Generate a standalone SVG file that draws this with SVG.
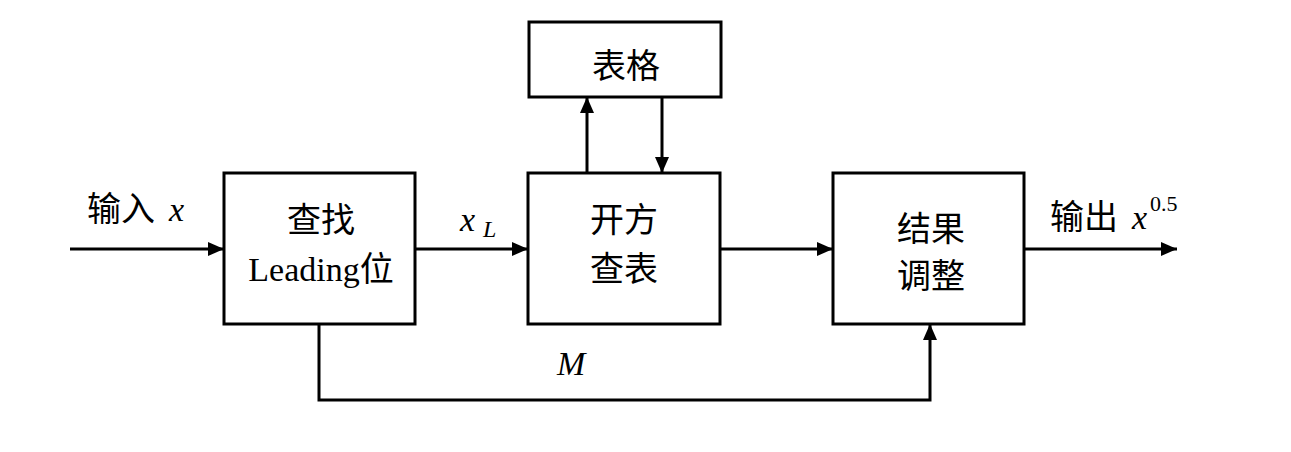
<svg xmlns="http://www.w3.org/2000/svg" width="1291" height="452" viewBox="0 0 1291 452">
<style>
.box{fill:#fff;stroke:#000;stroke-width:3}
.ln{fill:none;stroke:#000;stroke-width:3}
.cn{font-family:"Liberation Serif","Noto Sans CJK SC",serif;font-size:34px;fill:#000}
.it{font-family:"Liberation Serif",serif;font-style:italic;fill:#000}
</style>
<defs>
<marker id="ah" viewBox="0 0 16 14" refX="16" refY="7" markerWidth="16" markerHeight="14" markerUnits="userSpaceOnUse" orient="auto">
<path d="M0,0 L16,7 L0,14 Z" fill="#000"/>
</marker>
</defs>
<rect width="1291" height="452" fill="#fff"/>
<g id="connectors">
<line class="ln" x1="70" y1="249" x2="224" y2="249" marker-end="url(#ah)"/>
<line class="ln" x1="415" y1="249" x2="528" y2="249" marker-end="url(#ah)"/>
<line class="ln" x1="720" y1="249" x2="833" y2="249" marker-end="url(#ah)"/>
<line class="ln" x1="1024" y1="249" x2="1177" y2="249" marker-end="url(#ah)"/>
<line class="ln" x1="587" y1="173" x2="587" y2="97" marker-end="url(#ah)"/>
<line class="ln" x1="662" y1="97" x2="662" y2="173" marker-end="url(#ah)"/>
<polyline class="ln" points="319,324 319,400 930,400 930,324" marker-end="url(#ah)"/>
</g>
<g id="input-label">
<text class="cn" x="87" y="221">输入</text>
<text class="it" x="169" y="221" font-size="34">x</text>
</g>
<g id="leading">
<rect class="box" x="224" y="173" width="191" height="151"/>
<text class="cn" x="321" y="232" text-anchor="middle">查找</text>
<text class="cn" x="321" y="281" text-anchor="middle">Leading位</text>
</g>
<g id="xl-label">
<text class="it" x="460" y="231" font-size="34">x</text>
<text class="it" x="483" y="237" font-size="24">L</text>
</g>
<g id="sqrt-lookup">
<rect class="box" x="528" y="173" width="192" height="151"/>
<text class="cn" x="624" y="232" text-anchor="middle">开方</text>
<text class="cn" x="624" y="281" text-anchor="middle">查表</text>
</g>
<g id="table">
<rect class="box" x="529" y="22" width="192" height="75"/>
<text class="cn" x="626" y="78" text-anchor="middle">表格</text>
</g>
<g id="adjust">
<rect class="box" x="833" y="173" width="191" height="151"/>
<text class="cn" x="931" y="241" text-anchor="middle">结果</text>
<text class="cn" x="931" y="288" text-anchor="middle">调整</text>
</g>
<g id="output-label">
<text class="cn" x="1050" y="229">输出</text>
<text class="it" x="1132" y="229" font-size="34">x</text>
<text font-family="Liberation Serif,serif" font-size="22" x="1150" y="211">0.5</text>
</g>
<g id="m-label">
<text class="it" x="557" y="375" font-size="34">M</text>
</g>
</svg>
